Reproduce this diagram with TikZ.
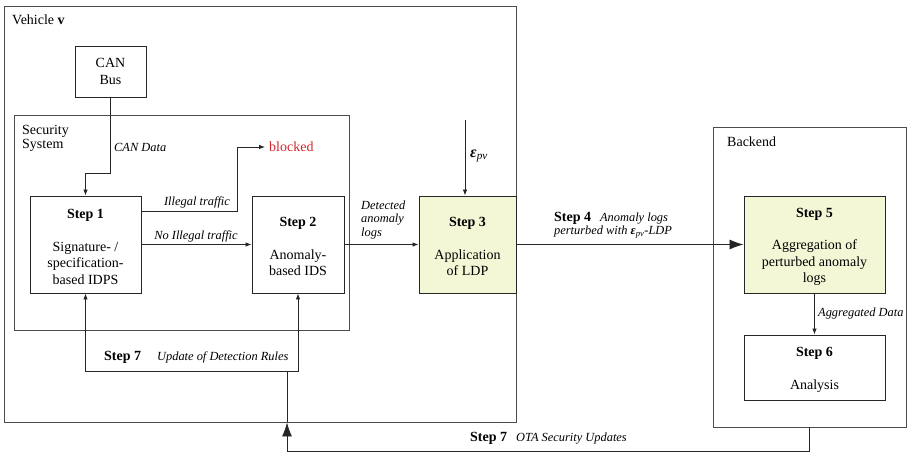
\documentclass[tikz,border=0pt]{standalone}
\usepackage{fontspec}
\setmainfont{Liberation Serif}
\usepackage{amsmath,amssymb}
\usepackage{xcolor}
\usetikzlibrary{arrows.meta}

\definecolor{ldpfill}{RGB}{244,247,214}
\definecolor{blockred}{RGB}{208,40,45}
\newcommand{\stepmark}[1]{{\upshape\bfseries\fontsize{14}{14}\selectfont Step #1}}
\newcommand{\steptitle}[1]{\rule{0pt}{14pt}\textbf{Step #1}}
\newcommand{\epspv}{{\bfseries\itshape ε}\textsubscript{\itshape pv}}

\begin{document}
\begin{tikzpicture}[x=1pt,y=-1pt,
    container/.style={draw=black!70, line width=0.9pt, inner sep=0pt},
    stepbox/.style={draw=black!85, line width=0.9pt, align=center, inner sep=0pt,
        font=\fontsize{14}{16.5}\selectfont},
    ldpbox/.style={stepbox, fill=ldpfill},
    boxtext/.style={font=\fontsize{14}{14}\selectfont, inner sep=0pt},
    flowlabel/.style={font=\fontsize{12.4}{13.5}\selectfont\itshape, inner sep=0pt},
    arr/.style={draw=black!85, line width=0.8pt, -{Latex[length=6pt,width=4.5pt]}},
    bigarr/.style={draw=black!85, line width=0.8pt, -{Latex[length=14pt,width=10pt]}},
    plainline/.style={draw=black!85, line width=0.8pt}]
    \useasboundingbox (0,0) rectangle (907,453);

    % containers
    \node[container, minimum width=512pt, minimum height=416pt] (vehicle) at (260,214) {};
    \node[container, minimum width=335pt, minimum height=215pt] (secsys) at (181.5,222.5) {};
    \node[container, minimum width=193pt, minimum height=300pt] (backend) at (809.5,277) {};
    \node[boxtext, anchor=west] (vehlabel) at (12,20) {Vehicle \textbf{v}};
    \node[boxtext, anchor=north west, align=left] (seclabel) at (22,125) {Security\\System};
    \node[boxtext, anchor=west] (backlabel) at (727,142) {Backend};

    % boxes
    \node[stepbox, minimum width=71pt, minimum height=51pt] (canbus) at (110.5,71.5) {CAN\\Bus};
    \node[stepbox, minimum width=111pt, minimum height=97pt] (step1) at (85.5,244.5)
        {\steptitle{1}\\[16pt]Signature- /\\specification-\\based IDPS};
    \node[stepbox, minimum width=92pt, minimum height=97pt] (step2) at (298,244.5)
        {\steptitle{2}\\[16pt]Anomaly-\\based IDS};
    \node[ldpbox, minimum width=97pt, minimum height=97pt] (step3) at (467.5,244.5)
        {\steptitle{3}\\[16pt]Application\\of LDP};
    \node[ldpbox, minimum width=141pt, minimum height=97pt] (step5) at (814.5,244.5)
        {\steptitle{5}\\[16pt]Aggregation of\\perturbed anomaly\\logs};
    \node[stepbox, minimum width=141pt, minimum height=65pt] (step6) at (814.5,367.5)
        {\steptitle{6}\\[16pt]Analysis};
    \node[boxtext, anchor=west, text=blockred, inner sep=4pt] (blocked) at (265,147) {blocked};

    % helper points
    \coordinate (canbend) at (110.5,173);
    \coordinate (illbend) at (237,147);
    \coordinate (epstop) at (465,120);
    \coordinate (updmid) at (287,371);
    \coordinate (otacorner) at (287,451.5);

    % connectors
    \draw[arr] (canbus.south) -- (canbend) -| (step1.north);
    \draw[arr] ([yshift=33.5pt]step1.east) -| (illbend) -- (blocked.west);
    \draw[arr] (step1.east) -- (step2.west);
    \draw[arr] (step2.east) -- (step3.west);
    \draw[arr] (epstop) -- (epstop |- step3.north);
    \draw[bigarr] (step3.east) -- (step5.west);
    \draw[arr] (step5.south) -- (step6.north);
    \draw[arr] (updmid) -| (step1.south);
    \draw[arr] (updmid) -| (step2.south);
    \draw[plainline] (updmid) -- (updmid |- vehicle.south);
    \draw[bigarr] (backend.south) |- (otacorner) -- (updmid |- vehicle.south);

    % labels
    \node[flowlabel, anchor=west] (canlabel) at (114,147) {CAN Data};
    \node[flowlabel] (illlabel) at (197,202) {Illegal traffic};
    \node[flowlabel] (nolabel) at (196,236) {No Illegal traffic};
    \node[flowlabel, anchor=west, align=left] (detlabel) at (361,220) {Detected\\anomaly\\logs};
    \node[font=\fontsize{16}{16}\selectfont, inner sep=0pt] (epslabel) at (479,156) {\epspv};
    \node[flowlabel, anchor=west, align=left] (s4label) at (554,225)
        {\stepmark{4}\hspace{9pt}Anomaly logs\\perturbed with \epspv-LDP};
    \node[flowlabel, anchor=west] (agglabel) at (818,314) {Aggregated Data};
    \node[flowlabel, anchor=west] (updlabel) at (104,357) {\stepmark{7}\hspace{16pt}Update of Detection Rules};
    \node[flowlabel, anchor=west] (otalabel) at (470,438) {\stepmark{7}\hspace{9pt}OTA Security Updates};
\end{tikzpicture}
\end{document}
